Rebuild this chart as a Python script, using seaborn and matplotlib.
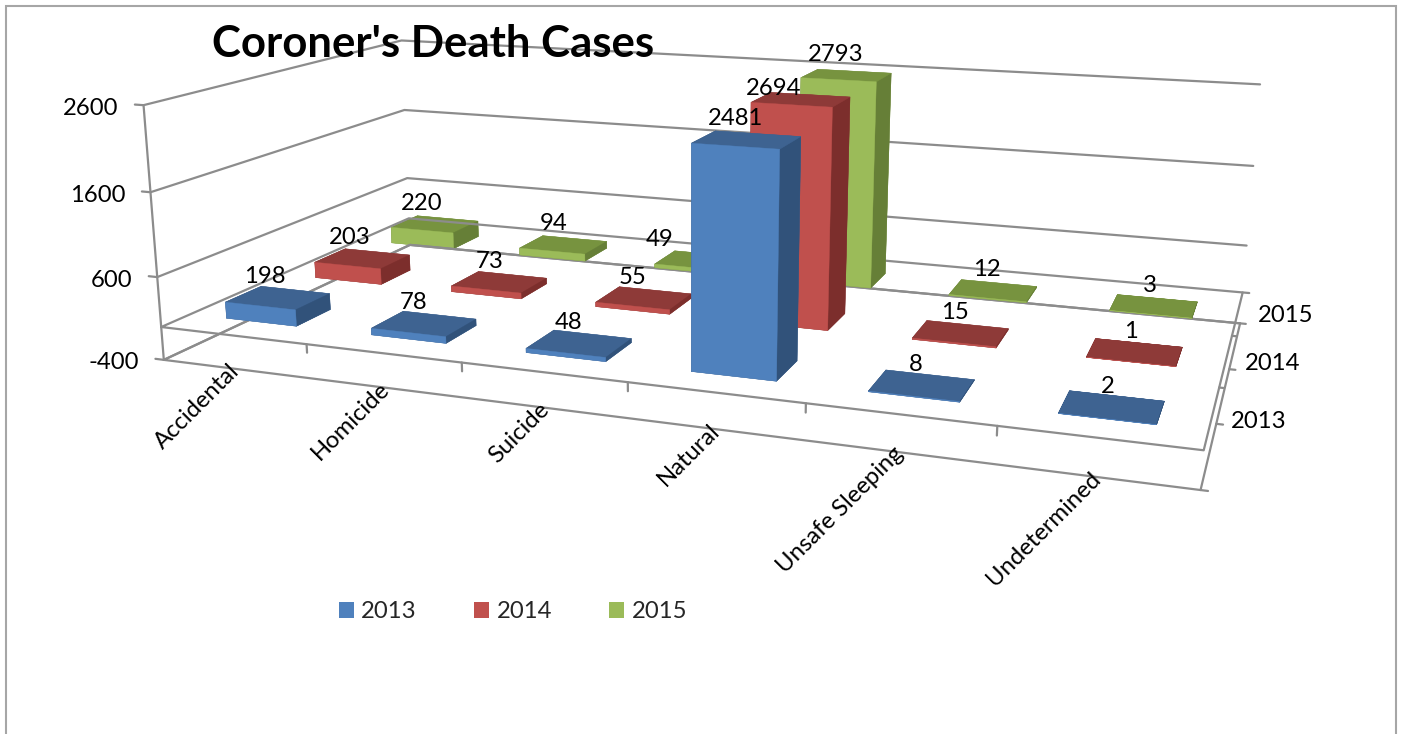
import numpy as np
import matplotlib
matplotlib.use("Agg")
import matplotlib.pyplot as plt
from matplotlib.patches import Patch, Rectangle
import seaborn as sns

# ---------- data ----------
categories = ["Accidental", "Homicide", "Suicide", "Natural", "Unsafe Sleeping", "Undetermined"]
years = ["2013", "2014", "2015"]
deaths_2013 = [198, 78, 48, 2481, 8, 2]
deaths_2014 = [203, 73, 55, 2694, 15, 1]
deaths_2015 = [220, 94, 49, 2793, 12, 3]
value_ticks = [-400, 600, 1600, 2600]
title_text = "Coroner's Death Cases"

# ---------- style ----------
sns.set_theme(style="white")
plt.rcParams["font.family"] = ["Lato", "DejaVu Sans"]
W, H, DPI = 1401, 734, 100
FS = 17.2
GREY = "#8C8C8C"
palette = sns.color_palette(["#4F81BD", "#C0504D", "#9BBB59"])
top_shades = ["#3E6391", "#8E3A38", "#77933F"]
side_shades = ["#31527A", "#7C2E2C", "#667F37"]

# ---------- camera: (category, series, value) -> figure pixel, fixed from the box corners ----------
box = np.array([
    (0, 0, 2600, 143, 106), (0, 0, 1600, 150, 192), (0, 0, 600, 157, 277), (0, 0, 0, 162, 327), (0, 0, -400, 164, 360),
    (6, 0, 0, 1203, 452), (6, 0, -400, 1201, 490),
    (6, 3, 2600, 1260, 85), (6, 3, 1600, 1253, 166), (6, 3, 600, 1247, 246), (6, 3, 0, 1242, 292), (6, 3, -400, 1240, 323),
    (0, 3, 2600, 402, 40), (0, 3, 1600, 405, 109), (0, 3, 600, 407, 178), (0, 3, -400, 409, 247),
    (1, 0, 0, 307, 343), (2, 0, 0, 462, 362), (3, 0, 0, 628, 382), (4, 0, 0, 805, 403), (5, 0, 0, 997, 427),
    (6, 1, -400, 1217, 423), (6, 2, -400, 1230, 368),
], dtype=float)
rows = []
rhs = []
for x, y, z, u, v in box:
    z = z / 1000
    rows.append([x, y, z, 1, 0, 0, 0, 0, -u * x, -u * y, -u * z])
    rows.append([0, 0, 0, 0, x, y, z, 1, -v * x, -v * y, -v * z])
    rhs += [u, v]
p = np.linalg.lstsq(np.array(rows), np.array(rhs), rcond=None)[0]
P = np.array([list(p[:4]), list(p[4:8]), list(p[8:11]) + [1.0]])
P[:, 2] /= 1000
depth = P[2] - np.array([0, 0, 0, 0.5])
CAM = np.array([P[0], P[1], depth, P[2]])


def project(x, y, z):
    h = P @ np.array([x, y, z, 1.0])
    return h[0] / h[2], h[1] / h[2]


fig = plt.figure(figsize=(W / DPI, H / DPI), dpi=DPI, facecolor="white")
ax = fig.add_axes([0, 0, 1, 1], projection="3d")
ax.set_axis_off()
ax.patch.set_visible(False)
ax.set_proj_type("ortho")          # keeps lines from being culled; the matrix itself is CAM
ax.get_proj = lambda: CAM
ax.apply_aspect = lambda position=None: None
ax.viewLim.intervalx = (0, W)
ax.viewLim.intervaly = (H, 0)


def line3(xs, ys, zs, lw=1.6):
    ax.plot(xs, ys, zs, color=GREY, lw=lw, solid_capstyle="round", clip_on=False)


n, m = len(categories), len(years)
# walls and planes
for v in value_ticks:
    line3([-0.06, 0, 0, n], [0, 0, m, m], [v] * 4)
line3([0, 0], [0, 0], [value_ticks[0], value_ticks[-1]])
for base in (0, -400):
    line3([0, n, n, 0, 0], [0, 0, m, m, 0], [base] * 5)
line3([n, n + 0.04], [m, m], [0, 0])
for i in range(1, n):
    line3([i, i], [0, 0], [0, -100])
for j in range(1, m + 1):
    line3([n, n + 0.035], [j, j], [-400, -400])
    if j < m:
        line3([n, n + 0.025], [j, j], [0, 0])
line3([n, n + 0.035], [0, 0], [-400, -400])

# bars (the value axis stops at its top tick, so taller bars end there)
BAR_DX, BAR_DY, OFF_X, OFF_Y = 0.49, 0.38, 0.258, 0.29
LABEL_DX = [-13, -10, -11, -11, -6, -4]
LABEL_NUDGE = {(2, 2): (-28, 0), (3, 1): (-16, 10)}
axis_top = value_ticks[-1]
series = [deaths_2013, deaths_2014, deaths_2015]
for j, values in enumerate(series):
    base_c, top_c, side_c = palette[j], top_shades[j], side_shades[j]
    faces = [top_c, top_c, base_c, top_c, side_c, side_c]
    for i, val in enumerate(values):
        height = min(val, axis_top)
        ax.bar3d(i + OFF_X, j + OFF_Y, 0, BAR_DX, BAR_DY, height, color=faces, edgecolor=faces,
                 linewidth=0.3, shade=False)
        px, py = project(i + OFF_X + BAR_DX / 2, j + OFF_Y + BAR_DY / 2, height)
        nx, ny = LABEL_NUDGE.get((i, j), (0, 0))
        ax.text2D(px + LABEL_DX[i] + nx, py - 21 + ny, str(val), transform=ax.transData,
                  ha="center", va="center", fontsize=FS, color="black", zorder=200)

# value tick labels
for v in value_ticks:
    px, py = project(0, 0, v)
    ax.text2D(px - 25, py + 3, f"{v}", transform=ax.transData, ha="right", va="center",
              fontsize=FS, color="black", zorder=200)

# category labels
for i, name in enumerate(categories):
    px, py = project(i + 0.5, 0, -400)
    ax.text2D(px + 1.5, py - 1.5, name, transform=ax.transData, ha="right", va="center", rotation=45,
              rotation_mode="anchor", fontsize=FS, color="black", zorder=200)

# series labels
for j, (name, dx, dy) in enumerate(zip(years, (15, 16, 18), (-2, -6, -8))):
    px, py = project(n, j + 1, -400)
    ax.text2D(px + dx, py + dy, name, transform=ax.transData, ha="left", va="center",
              fontsize=FS, color="black", zorder=200)

# title
fig.text(212 / W, 1 - 44 / H, title_text, fontsize=31.5, fontweight="bold", color="black",
         ha="left", va="center", zorder=300)

# legend
handles = [Patch(facecolor=c, edgecolor="none", label=y) for c, y in zip(palette, years)]
fig.legend(handles=handles, ncols=3, loc="center left", bbox_to_anchor=(339 / W, 1 - 612 / H),
           frameon=False, fontsize=FS, handlelength=0.63, handleheight=0.63, handletextpad=0.3,
           columnspacing=2.4, borderaxespad=0, borderpad=0)

# chart border
fig.add_artist(Rectangle((5.5 / W, -0.1), (1395.5 - 5.5) / W, 1.1 - 6.5 / H, transform=fig.transFigure,
                         fill=False, edgecolor="#A6A6A6", lw=1.5))

fig.savefig("out.png", dpi=DPI, facecolor="white")
